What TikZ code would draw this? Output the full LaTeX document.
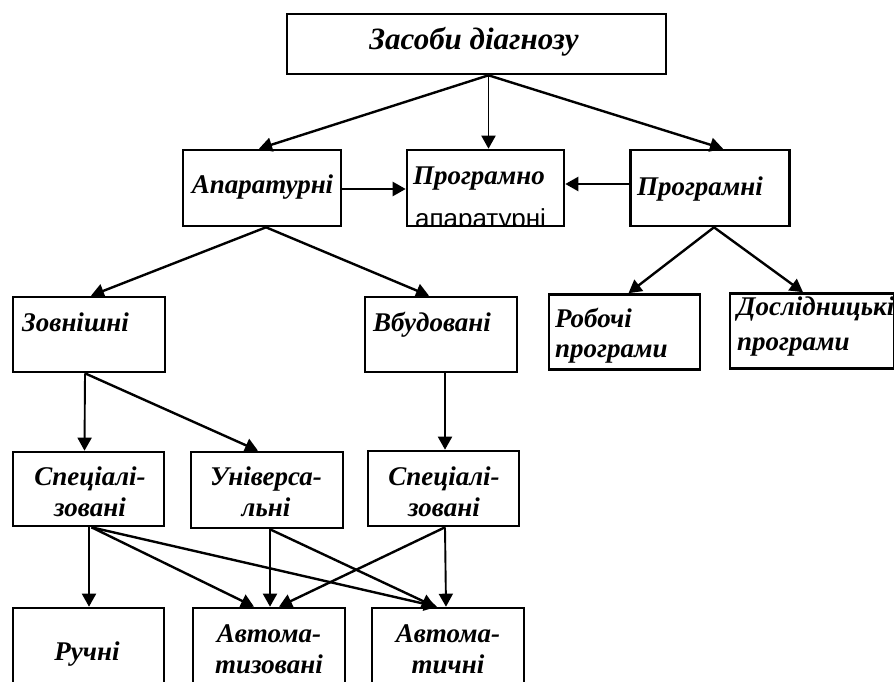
\documentclass[tikz,border=0pt]{standalone}
\usepackage{fontspec}
\setmainfont{Liberation Serif}
\newfontfamily\sansf{Liberation Sans}
\usetikzlibrary{arrows.meta}
\tikzset{
  box/.style={draw, line width=2.6pt, rectangle, inner sep=0pt},
  lbl/.style={inner sep=0pt, anchor=base, font=\fontsize{27}{30}\selectfont\bfseries\itshape},
  lbll/.style={lbl, anchor=base west},
  toplbl/.style={lbl, font=\fontsize{31}{34}\selectfont\bfseries\itshape},
  arr/.style={line width=2.4pt, -{Triangle[length=13pt,width=14pt]}},
  arrt/.style={line width=1.9pt, -{Triangle[length=13pt,width=14pt]}}
}
\begin{document}
\begin{tikzpicture}[x=1pt,y=-1pt]
\useasboundingbox (0,0) rectangle (894,682);
% boxes
\node[box, minimum width=379pt, minimum height=60pt] (top) at (476.5,44) {};
\node[box, minimum width=158pt, minimum height=76pt] (apar) at (262,188) {};
\node[box, minimum width=157pt, minimum height=76pt] (progap) at (485.5,188) {};
\node[box, minimum width=159pt, minimum height=76pt] (progr) at (710,188) {};
\node[box, minimum width=152pt, minimum height=75pt] (zovn) at (89,334.5) {};
\node[box, minimum width=152pt, minimum height=75pt] (vbud) at (441,334.5) {};
\node[box, minimum width=151pt, minimum height=75pt] (rob) at (624.5,332) {};
\node[box, minimum width=164pt, minimum height=75pt] (dosl) at (812,331) {};
\node[box, minimum width=151pt, minimum height=74pt] (spec1) at (88.5,489) {};
\node[box, minimum width=152pt, minimum height=76pt] (univ) at (267,490) {};
\node[box, minimum width=151pt, minimum height=75pt] (spec2) at (443.5,488.5) {};
\node[box, minimum width=151pt, minimum height=92pt] (ruch) at (88.5,654) {};
\node[box, minimum width=152pt, minimum height=92pt] (autz) at (269,654) {};
\node[box, minimum width=152pt, minimum height=92pt] (autch) at (448,654) {};
% texts
\node[toplbl] (t-top) at (474,50) {Засоби діагнозу};
\node[lbl] (t-apar) at (262.5,193) {Апаратурні};
\node[lbl] (t-progap) at (479,184) {Програмно};
\begin{scope}
\clip (400,195) rectangle (570,224.5);
\node[inner sep=0pt, anchor=base, font=\fontsize{26}{28}\selectfont\sansf] (t-apar2) at (480.5,227) {апаратурні};
\end{scope}
\node[lbl] (t-progr) at (700,195) {Програмні};
\node[lbll] (t-zovn) at (22,331) {Зовнішні};
\node[lbl] (t-vbud) at (432,331) {Вбудовані};
\node[lbll] (t-rob1) at (555,327) {Робочі};
\node[lbll] (t-rob2) at (555,357) {програми};
\node[lbll] (t-dosl1) at (737,315) {Дослідницькі};
\node[lbll] (t-dosl2) at (737,350) {програми};
\node[lbl] (t-spec1a) at (90,485) {Спеціалі-};
\node[lbl] (t-spec1b) at (90,516) {зовані};
\node[lbl] (t-univa) at (266,485) {Універса-};
\node[lbl] (t-univb) at (266,516) {льні};
\node[lbl] (t-spec2a) at (444,485) {Спеціалі-};
\node[lbl] (t-spec2b) at (444,516) {зовані};
\node[lbl] (t-ruch) at (87,660) {Ручні};
\node[lbl] (t-autza) at (269,642) {Автома-};
\node[lbl] (t-autzb) at (269,673) {тизовані};
\node[lbl] (t-autcha) at (448,642) {Автома-};
\node[lbl] (t-autchb) at (448,673) {тичні};
% arrows
\draw[arr] ([xshift=12pt]top.south) -- ([xshift=-3pt]apar.north);
\draw[arrt] ([xshift=12pt]top.south) -- ([xshift=3pt]progap.north);
\draw[arr] ([xshift=12pt]top.south) -- ([xshift=13pt]progr.north);
\draw[arr] ([yshift=-1pt]apar.east) -- ([yshift=-1pt]progap.west);
\draw[arr] ([yshift=4pt]progr.west) -- ([yshift=4pt]progap.east);
\draw[arr] ([xshift=4pt]apar.south) -- ([xshift=2pt]zovn.north);
\draw[arr] ([xshift=4pt]apar.south) -- ([xshift=-12pt]vbud.north);
\draw[arr] ([xshift=4pt]progr.south) -- ([xshift=4pt]rob.north);
\draw[arr] ([xshift=4pt]progr.south) -- ([xshift=-9pt]dosl.north);
\draw[arrt] ([xshift=-4pt]zovn.south) -- ([xshift=-4pt]spec1.north);
\draw[arr] ([xshift=-4pt]zovn.south) -- ([xshift=-9pt]univ.north);
\draw[arrt] ([xshift=4pt]vbud.south) -- ([xshift=1.5pt]spec2.north);
\draw[arrt] ([xshift=0.5pt]spec1.south) -- ([xshift=0.5pt]ruch.north);
\draw[arr] ([xshift=3pt]spec1.south) -- ([xshift=-15pt]autz.north);
\draw[arr] ([xshift=3pt]spec1.south) -- ([xshift=-11pt]autch.north);
\draw[arrt] ([xshift=3pt]univ.south) -- ([xshift=1pt]autz.north);
\draw[arr] ([xshift=3pt]univ.south) -- ([xshift=-13pt]autch.north);
\draw[arr] ([xshift=1.5pt]spec2.south) -- ([xshift=10pt]autz.north);
\draw[arrt] ([xshift=1.5pt]spec2.south) -- ([xshift=-2pt]autch.north);
\end{tikzpicture}
\end{document}
